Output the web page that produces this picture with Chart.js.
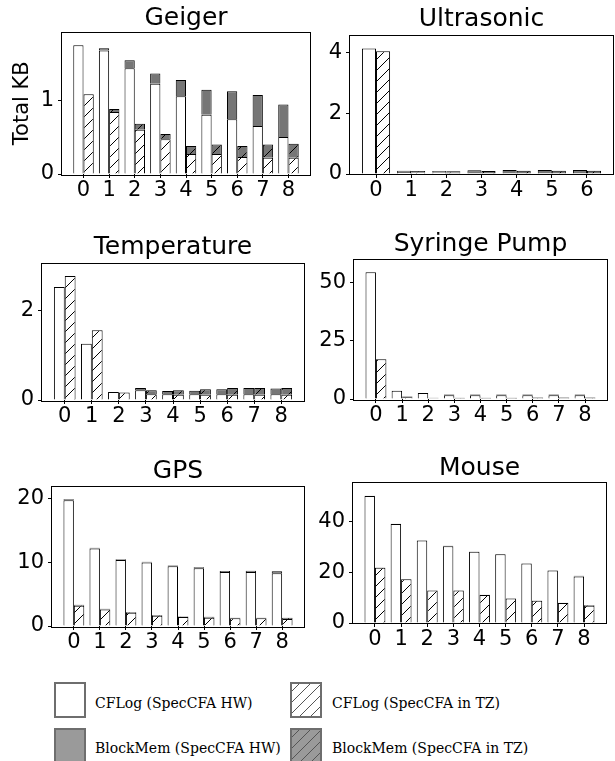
<!DOCTYPE html>
<html>
<head>
<meta charset="utf-8">
<script src="https://cdn.jsdelivr.net/npm/chart.js@4.4.1/dist/chart.umd.min.js"></script>
<style>
  body { margin: 0; background: #fff; }
  #page { position: relative; width: 615px; height: 761px; overflow: hidden; background: #fff; }
  #page canvas { position: absolute; }
  .legend-text {
    position: absolute;
    font-family: "DejaVu Serif", serif;
    font-size: 14px;
    line-height: 16px;
    color: #000;
    white-space: nowrap;
  }
</style>
</head>
<body>
<div id="page"></div>
<script>
// x categories
const runs9 = [0, 1, 2, 3, 4, 5, 6, 7, 8];
const runs7 = [0, 1, 2, 3, 4, 5, 6];

// values (KB)
const geigerHwCflog = [1.74, 1.67, 1.43, 1.22, 1.05, 0.80, 0.74, 0.65, 0.50];
const geigerHwBlock = [0.00, 0.03, 0.11, 0.14, 0.22, 0.34, 0.38, 0.42, 0.44];
const geigerTzCflog = [1.08, 0.84, 0.60, 0.47, 0.27, 0.27, 0.23, 0.22, 0.22];
const geigerTzBlock = [0.00, 0.04, 0.08, 0.07, 0.11, 0.13, 0.15, 0.18, 0.19];
const geigerYTicks = [0, 1];

const ultraHwCflog = [4.14, 0.07, 0.06, 0.03, 0.03, 0.03, 0.03];
const ultraHwBlock = [0.00, 0.04, 0.04, 0.09, 0.10, 0.10, 0.10];
const ultraTzCflog = [4.05, 0.05, 0.04, 0.03, 0.03, 0.03, 0.03];
const ultraTzBlock = [0.00, 0.05, 0.05, 0.07, 0.08, 0.08, 0.08];
const ultraYTicks = [0, 2, 4];

const tempHwCflog = [2.53, 1.26, 0.18, 0.22, 0.13, 0.13, 0.13, 0.13, 0.13];
const tempHwBlock = [0.00, 0.00, 0.00, 0.05, 0.07, 0.08, 0.11, 0.14, 0.13];
const tempTzCflog = [2.78, 1.56, 0.17, 0.13, 0.12, 0.12, 0.12, 0.12, 0.12];
const tempTzBlock = [0.00, 0.00, 0.00, 0.09, 0.10, 0.12, 0.15, 0.15, 0.15];
const tempYTicks = [0, 2];

const syrHwCflog = [54.6, 3.6, 2.6, 1.6, 1.6, 1.6, 1.6, 1.6, 1.6];
const syrHwBlock = [0.0, 0.0, 0.0, 0.3, 0.3, 0.3, 0.3, 0.3, 0.3];
const syrTzCflog = [17.1, 0.7, 0.3, 0.2, 0.2, 0.2, 0.2, 0.2, 0.2];
const syrTzBlock = [0.0, 0.4, 0.2, 0.3, 0.3, 0.3, 0.4, 0.4, 0.4];
const syrYTicks = [0, 25, 50];

const gpsHwCflog = [19.8, 12.2, 10.4, 10.0, 9.4, 9.1, 8.5, 8.5, 8.3];
const gpsHwBlock = [0.15, 0.1, 0.1, 0.1, 0.1, 0.15, 0.15, 0.2, 0.3];
const gpsTzCflog = [3.2, 2.6, 2.1, 1.6, 1.4, 1.3, 1.2, 1.2, 1.1];
const gpsTzBlock = [0.15, 0.1, 0.1, 0.15, 0.1, 0.15, 0.1, 0.1, 0.2];
const gpsYTicks = [0, 10, 20];

const mouseHwCflog = [49.9, 38.9, 32.4, 30.2, 28.0, 27.0, 23.4, 20.6, 18.3];
const mouseHwBlock = [0.1, 0.1, 0.1, 0.1, 0.1, 0.1, 0.1, 0.1, 0.3];
const mouseTzCflog = [21.7, 17.2, 12.8, 12.8, 11.0, 9.6, 8.7, 7.9, 6.8];
const mouseTzBlock = [0.1, 0.1, 0.1, 0.1, 0.1, 0.1, 0.1, 0.1, 0.3];
const mouseYTicks = [0, 20, 40];

const seriesNames = ['CFLog (SpecCFA HW)', 'CFLog (SpecCFA in TZ)', 'BlockMem (SpecCFA HW)', 'BlockMem (SpecCFA in TZ)'];

Chart.defaults.font.family = 'DejaVu Sans';
Chart.defaults.color = '#000';

const GRAY = '#767676';

// diagonal "/" hatch tile
function hatch(bg, line, size) {
  const c = document.createElement('canvas');
  c.width = size;
  c.height = size;
  const g = c.getContext('2d');
  g.fillStyle = bg;
  g.fillRect(0, 0, size, size);
  g.strokeStyle = line;
  g.lineWidth = 1;
  g.beginPath();
  g.moveTo(0, size); g.lineTo(size, 0);
  g.moveTo(-2, 2); g.lineTo(2, -2);
  g.moveTo(size - 2, size + 2); g.lineTo(size + 2, size - 2);
  g.stroke();
  return g.createPattern(c, 'repeat');
}

const hatchWhite = hatch('#fff', '#000', 11);
const hatchGray = hatch(GRAY, '#000', 11);

// draws the full box round the plot, like matplotlib spines
const framePlugin = {
  id: 'frame',
  afterDraw(chart) {
    const { ctx, chartArea: a } = chart;
    ctx.save();
    ctx.strokeStyle = '#000';
    ctx.lineWidth = 1;
    ctx.strokeRect(Math.round(a.left) - 0.5, Math.round(a.top) - 0.5,
      Math.round(a.right - a.left) + 1, Math.round(a.bottom - a.top) + 1);
    ctx.restore();
  }
};

const panels = [
  { title: 'Geiger', x: runs9, y: geigerYTicks, s: [geigerHwCflog, geigerHwBlock, geigerTzCflog, geigerTzBlock],
    cx: 0, l: 62, r: 310, t: 32, b: 174, titleY: 17.5, yTitle: 'Total KB' },
  { title: 'Ultrasonic', x: runs7, y: ultraYTicks, s: [ultraHwCflog, ultraHwBlock, ultraTzCflog, ultraTzBlock],
    cx: 300, l: 350, r: 613, t: 36, b: 174, titleY: 19 },
  { title: 'Temperature', x: runs9, y: tempYTicks, s: [tempHwCflog, tempHwBlock, tempTzCflog, tempTzBlock],
    cx: 0, l: 42, r: 304, t: 263, b: 400, titleY: 246.5 },
  { title: 'Syringe Pump', x: runs9, y: syrYTicks, s: [syrHwCflog, syrHwBlock, syrTzCflog, syrTzBlock],
    cx: 300, l: 354, r: 607, t: 259, b: 399, titleY: 243.5 },
  { title: 'GPS', x: runs9, y: gpsYTicks, s: [gpsHwCflog, gpsHwBlock, gpsTzCflog, gpsTzBlock],
    cx: 0, l: 52, r: 304, t: 486, b: 626, titleY: 470.5 },
  { title: 'Mouse', x: runs9, y: mouseYTicks, s: [mouseHwCflog, mouseHwBlock, mouseTzCflog, mouseTzBlock],
    cx: 300, l: 353, r: 606, t: 483, b: 623, titleY: 468 }
];

const page = document.getElementById('page');

panels.forEach((p) => {
  const top = p.titleY - 15;
  const width = p.r - p.cx + 3;
  const height = p.b - top + 32;
  const canvas = document.createElement('canvas');
  canvas.width = width;
  canvas.height = height;
  canvas.style.left = p.cx + 'px';
  canvas.style.top = top + 'px';
  page.appendChild(canvas);

  const n = p.x.length;
  const margin = 0.05 * (n - 1 + 0.8);
  const totals = p.x.map((_, i) => Math.max(p.s[0][i] + p.s[1][i], p.s[2][i] + p.s[3][i]));
  const yMax = Math.max(...totals) * 1.1;

  const bar = { borderColor: '#000', borderWidth: 1, borderSkipped: 'start',
    categoryPercentage: 0.8, barPercentage: 1.0 };

  new Chart(canvas, {
    type: 'bar',
    data: {
      labels: p.x,
      datasets: [
        { ...bar, label: seriesNames[0], data: p.s[0], stack: 'hw', backgroundColor: '#fff' },
        { ...bar, label: seriesNames[2], data: p.s[1], stack: 'hw', backgroundColor: GRAY },
        { ...bar, label: seriesNames[1], data: p.s[2], stack: 'tz', backgroundColor: hatchWhite },
        { ...bar, label: seriesNames[3], data: p.s[3], stack: 'tz', backgroundColor: hatchGray }
      ]
    },
    options: {
      responsive: false,
      animation: false,
      layout: { padding: { left: 0, right: 3, top: 0, bottom: 0 } },
      plugins: {
        legend: { display: false },
        tooltip: { enabled: false },
        title: {
          display: true,
          fullSize: false,
          text: p.title,
          font: { size: 25, weight: 'normal' },
          color: '#000',
          padding: { top: 0, bottom: p.t - p.titleY - 15 }
        }
      },
      scales: {
        x: {
          type: 'linear',
          stacked: true,
          offset: false,
          bounds: 'data',
          min: -0.4 - margin,
          max: n - 1 + 0.4 + margin,
          afterBuildTicks: (s) => { s.ticks = p.x.map(v => ({ value: v })); },
          afterFit: (s) => { s.height = 32; },
          ticks: { font: { size: 21 }, padding: 0, color: '#000', includeBounds: false, autoSkip: false, maxRotation: 0 },
          grid: { display: true, drawOnChartArea: false, drawTicks: true, tickLength: 4, color: '#000', offset: false },
          border: { display: false }
        },
        y: {
          stacked: true,
          min: 0,
          max: yMax,
          afterBuildTicks: (s) => { s.ticks = p.y.map(v => ({ value: v })); },
          afterFit: (s) => { s.width = p.l - p.cx; },
          ticks: { font: { size: 21 }, padding: 4, color: '#000' },
          grid: { display: true, drawOnChartArea: false, drawTicks: true, tickLength: 4, color: '#000' },
          border: { display: false },
          title: {
            display: !!p.yTitle,
            text: p.yTitle || '',
            font: { size: 21 },
            color: '#000',
            padding: { top: 10, bottom: 0 }
          }
        }
      }
    },
    plugins: [framePlugin]
  });
});

// legend below the panels
const legendItems = [
  { name: seriesNames[0], fill: '#fff', hatched: false, bx: 54, by: 682, tx: 95, ty: 703 },
  { name: seriesNames[1], fill: '#fff', hatched: true, bx: 290, by: 682, tx: 332, ty: 703 },
  { name: seriesNames[2], fill: '#9a9a9a', hatched: false, bx: 54, by: 728, tx: 95, ty: 748 },
  { name: seriesNames[3], fill: '#9a9a9a', hatched: true, bx: 290, by: 728, tx: 332, ty: 748 }
];

legendItems.forEach((it) => {
  const w = 32, h = 36;
  const c = document.createElement('canvas');
  c.width = w;
  c.height = h;
  c.style.left = it.bx + 'px';
  c.style.top = it.by + 'px';
  page.appendChild(c);
  const g = c.getContext('2d');
  g.fillStyle = it.hatched ? hatch(it.fill, '#555', 11) : it.fill;
  g.fillRect(1, 1, w - 2, h - 2);
  g.strokeStyle = '#6e6e6e';
  g.lineWidth = 2;
  g.strokeRect(1, 1, w - 2, h - 2);

  const t = document.createElement('div');
  t.className = 'legend-text';
  t.textContent = it.name;
  t.style.left = it.tx + 'px';
  t.style.top = (it.ty - 8) + 'px';
  page.appendChild(t);
});
</script>
</body>
</html>
